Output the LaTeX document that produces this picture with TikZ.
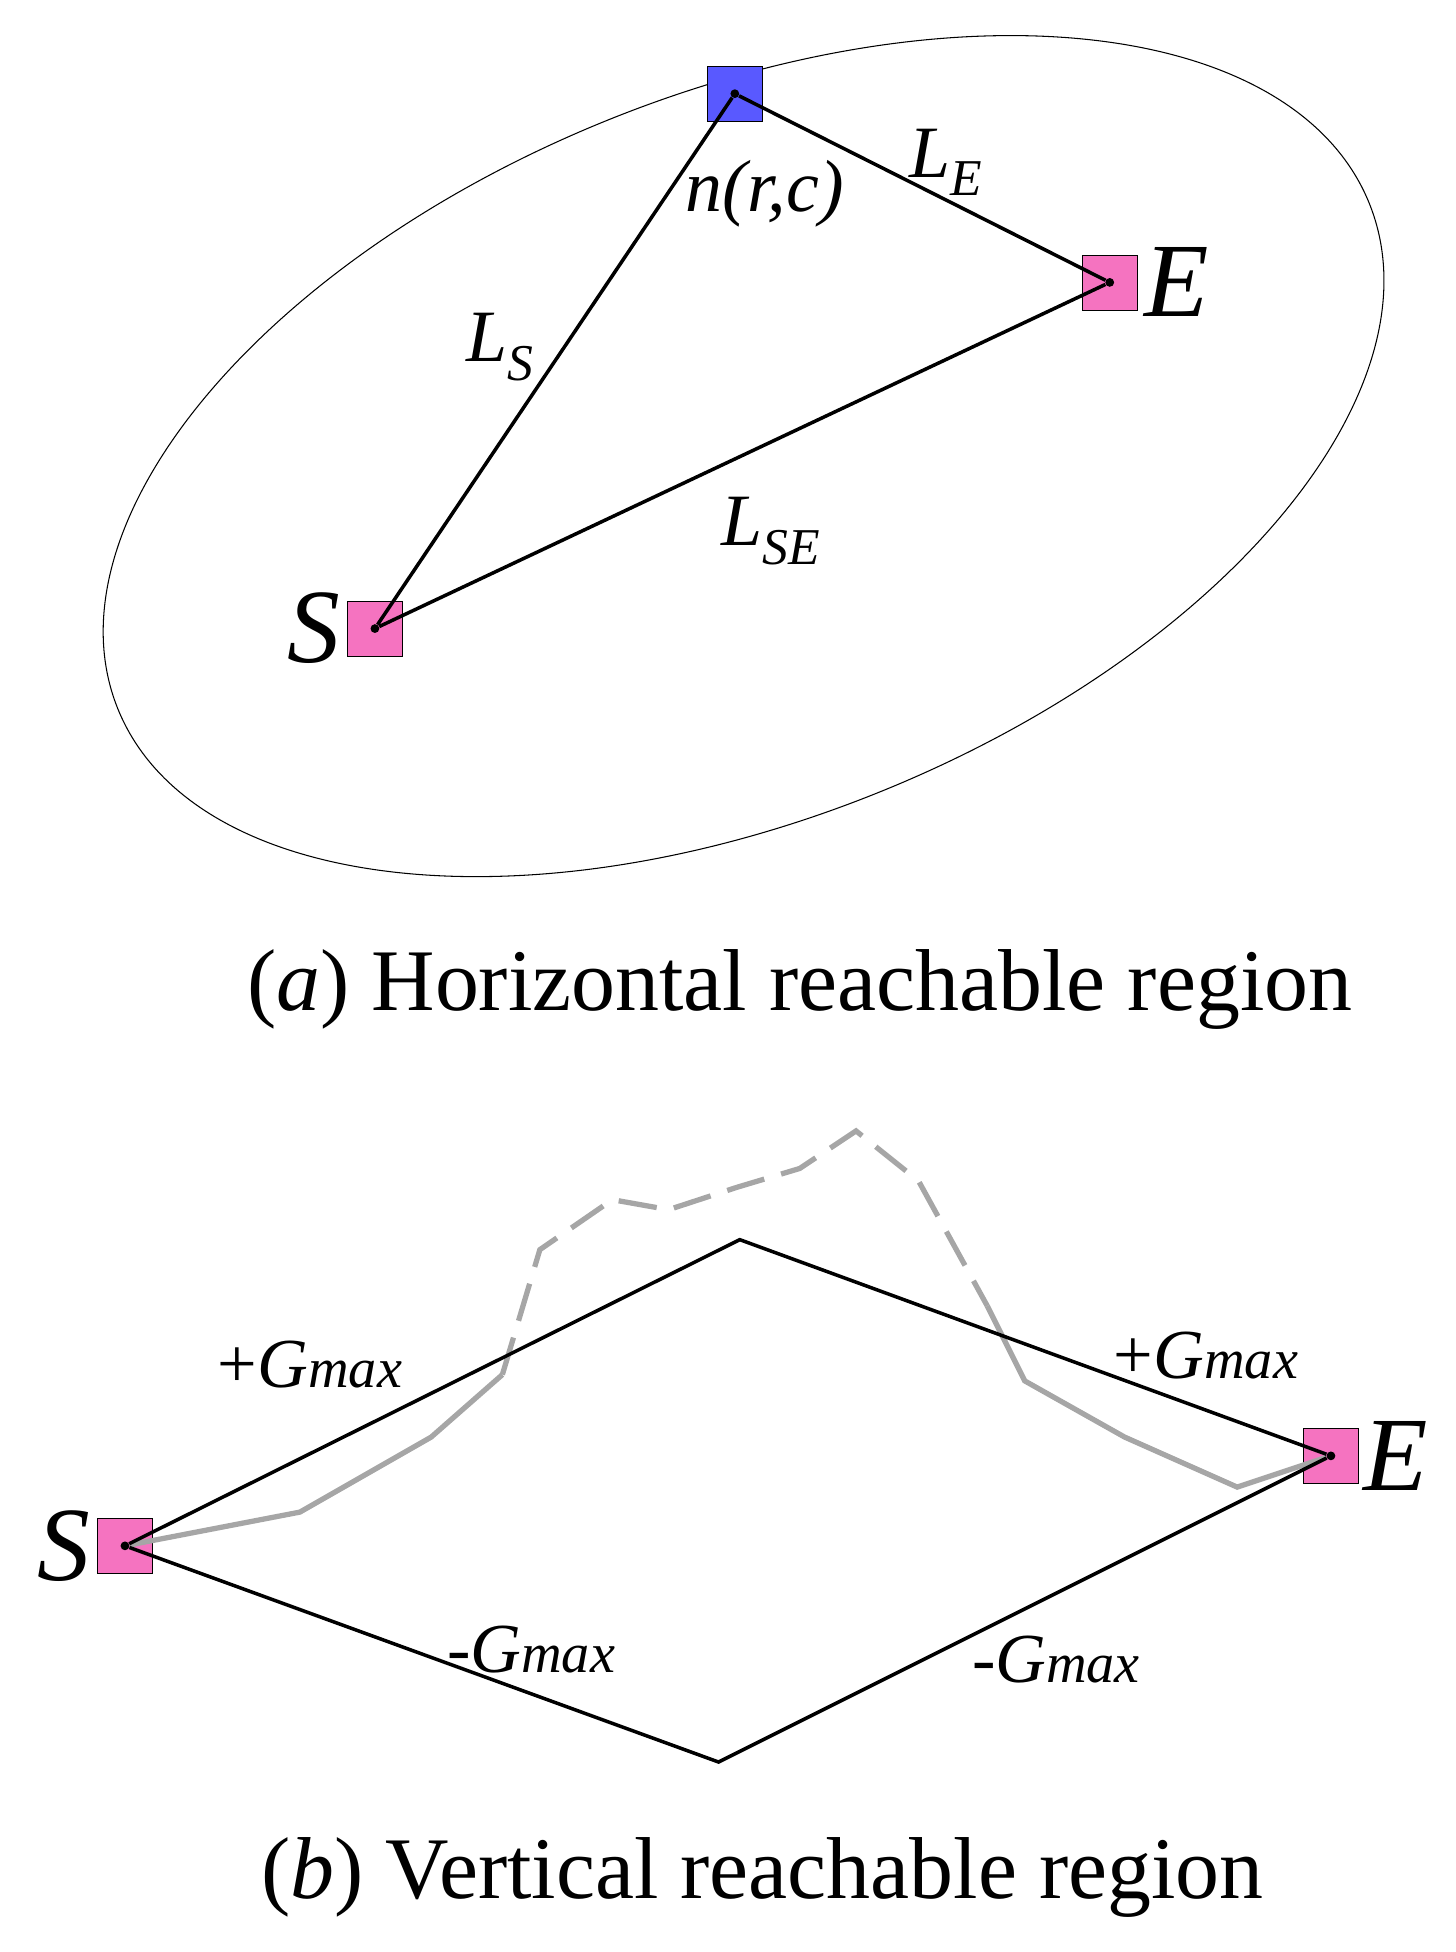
\documentclass[tikz,border=0pt]{standalone}
\usepackage{fontspec}
\setmainfont{Liberation Serif}
\usetikzlibrary{positioning}
\begin{document}
\begin{tikzpicture}[x=0.025cm,y=0.025cm]
  \tikzset{cell/.style={draw,rectangle,thin,minimum size=1.1cm,inner sep=0pt,fill=#1},
           dot/.style={inner sep=0pt,minimum size=5pt,fill=black,circle},
           lab/.style={font=\fontsize{42}{46}\selectfont\itshape,inner sep=1pt},
           big/.style={font=\fontsize{60}{64}\selectfont\itshape,inner sep=1pt},
           caption/.style={font=\fontsize{50}{56}\selectfont},
           gmax/.style={font=\fontsize{40}{44}\selectfont,inner sep=1pt}}

%%%%%%%%%%%%%%%%%%%%%%%%%%%%%%%%%%%%%%%%%%%%%%%%%%%%%%%%%%%%%%%%%%%%%%%%%%%%%%

\useasboundingbox (0,0) rectangle (1165,1562);

%% (a) horizontal
\draw[semithick] (595,1197) ellipse[x radius=540,y radius=290,rotate=22];

\node[cell={blue!65}] (N) at (588,1487) {};
\node[cell={magenta!55}] (E) at (888,1336) {};
\node[cell={magenta!55}] (S) at (300,1059) {};
\node[dot] (n) at (N) {};
\node[dot] (e) at (E) {};
\node[dot] (s) at (S) {};

\draw[line width=2pt] (s) -- (n) -- (e) -- (s);

\node[lab] at (612,1407) {n(r,c)};
\node[lab] at (757,1432) {L$_{\mathit{E}}$};
\node[lab] at (400,1284) {L$_{\mathit{S}}$};
\node[lab] at (617,1137) {L$_{\mathit{SE}}$};
\node[big,right=0.1cm of E] {E};
\node[big,left=0.1cm of S] {S};

\node[caption] at (640,770) {(\textit{a}) Horizontal reachable region};

%%%%%%%%%%%%%%%%%%%%%%%%%%%%%%%%%%%%%%%%%%%%%%%%%%%%%%%%%%%%%%%%%%%%%%%%%%%%%%

%% (b) vertical
\node[cell={magenta!55}] (S2) at (100,325) {};
\node[cell={magenta!55}] (E2) at (1065,397) {};
\node[dot] (s2) at (S2) {};
\node[dot] (e2) at (E2) {};
\coordinate (top) at (592,570);
\coordinate (bot) at (575,152);

\draw[line width=3pt,gray!70] (s2) -- (240,352) -- (345,412) -- (402,462);
\draw[line width=3pt,gray!70,dash pattern=on 22pt off 10pt]
  (402,462) -- (432,562) -- (490,602) -- (535,594) -- (590,612) -- (640,627)
  -- (685,657) -- (735,617) -- (790,517);
\draw[line width=3pt,gray!70] (790,517) -- (820,457) -- (900,412) -- (990,372) -- (e2);

\draw[line width=2pt] (s2) -- (top) -- (e2) -- (bot) -- (s2);

\node[gmax] at (248,470) {+\textit{G\fontsize{32}{34}\selectfont max}};
\node[gmax] at (965,477) {+\textit{G\fontsize{32}{34}\selectfont max}};
\node[gmax] at (425,242) {-\textit{G\fontsize{32}{34}\selectfont max}};
\node[gmax] at (845,234) {-\textit{G\fontsize{32}{34}\selectfont max}};
\node[big,right=0.05cm of E2] {E};
\node[big,left=0.1cm of S2] {S};

\node[caption] at (610,60) {(\textit{b}) Vertical reachable region};

%%%%%%%%%%%%%%%%%%%%%%%%%%%%%%%%%%%%%%%%%%%%%%%%%%%%%%%%%%%%%%%%%%%%%%%%%%%%%%

\end{tikzpicture}
\end{document}
